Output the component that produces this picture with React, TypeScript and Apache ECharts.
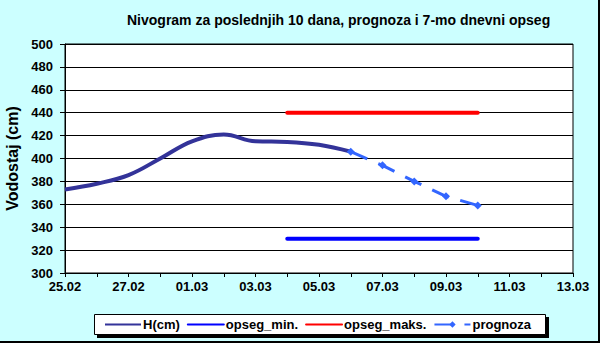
import React, { useEffect, useRef } from "react";
import * as echarts from "echarts";

const dateLabels = [
  "25.02", "26.02", "27.02", "28.02", "01.03", "02.03", "03.03", "04.03", "05.03",
  "06.03", "07.03", "08.03", "09.03", "10.03", "11.03", "12.03", "13.03",
];
// day index (0 = 25.02) and level in cm
const hDays = [0, 1, 2, 3, 4, 5, 6, 7, 8, 9];
const hValues = [373, 378, 385.5, 400, 415, 421, 415, 414.5, 412, 406];
const progDays = [9, 10, 11, 12, 13];
const progValues = [406, 394, 380, 367, 359];
const rangeDays = [7, 13];
const opsegMin = [330, 330];
const opsegMaks = [440, 440];
const yTicks = { min: 300, max: 500, step: 20 };

const FONT = 'Arial, "Liberation Sans", sans-serif';

export default function App() {
  const ref = useRef<HTMLDivElement>(null);
  useEffect(() => {
    document.body.style.margin = "0";
    if (!ref.current) return;
    const chart = echarts.init(ref.current, undefined, { renderer: "svg" });
    const zip = (xs: number[], ys: number[]) => xs.map((x, i) => [x, ys[i]]);
    const hidden = { opacity: 0 };
    chart.setOption({
      animation: false,
      backgroundColor: "#CCFFFF",
      textStyle: { fontFamily: FONT },
      title: {
        text: "Nivogram za poslednjih 10 dana, prognoza i 7-mo dnevni opseg",
        left: 127,
        top: 13,
        padding: 0,
        textStyle: { fontSize: 14, fontWeight: "bold", color: "#000", fontFamily: FONT },
      },
      grid: {
        left: 65,
        right: 27,
        top: 44,
        bottom: 70,
        containLabel: false,
        outerBoundsMode: "none",
        show: true,
        backgroundColor: "#fff",
        borderColor: "#000",
        borderWidth: 1,
      },
      xAxis: {
        type: "value",
        min: 0,
        max: dateLabels.length - 1,
        interval: 1,
        axisLine: { show: true, lineStyle: { color: "#000", width: 1 } },
        axisTick: { show: true, length: 4, lineStyle: { color: "#000" } },
        splitLine: { show: false },
        axisLabel: {
          margin: 7,
          color: "#000",
          fontSize: 13,
          fontWeight: "bold",
          fontFamily: FONT,
          formatter: (v: number) => (v % 2 === 0 ? dateLabels[v] : ""),
        },
      },
      yAxis: {
        type: "value",
        min: yTicks.min,
        max: yTicks.max,
        interval: yTicks.step,
        name: "Vodostaj (cm)",
        nameLocation: "middle",
        nameGap: 31,
        nameTextStyle: { fontSize: 16, fontWeight: "bold", color: "#000", fontFamily: FONT },
        axisLine: { show: true, lineStyle: { color: "#000", width: 1 } },
        axisTick: { show: true, length: 5, lineStyle: { color: "#000" } },
        splitLine: { show: true, lineStyle: { color: "#000", width: 1 } },
        axisLabel: {
          margin: 12,
          color: "#000",
          fontSize: 13,
          fontWeight: "bold",
          fontFamily: FONT,
        },
      },
      legend: {
        left: 104,
        top: 318,
        itemWidth: 36,
        itemHeight: 8,
        itemGap: 7,
        padding: 0,
        textStyle: { fontSize: 13, fontWeight: "bold", color: "#000", fontFamily: FONT, padding: [0, 0, 0, -3] },
        data: [
          { name: "H(cm)", itemStyle: hidden },
          { name: "opseg_min.", itemStyle: hidden },
          { name: "opseg_maks.", itemStyle: hidden },
          { name: "prognoza" },
        ],
      },
      graphic: [
        { type: "rect", z: -1, shape: { x: 97, y: 317, width: 452, height: 21 }, style: { fill: "#000" } },
        { type: "rect", z: -1, shape: { x: 94.5, y: 314.5, width: 451, height: 20 }, style: { fill: "#fff", stroke: "#000", lineWidth: 1 } },
        { type: "line", shape: { x1: 599, y1: 0, x2: 599, y2: 343 }, style: { stroke: "#000", lineWidth: 2 } },
        { type: "line", shape: { x1: 0, y1: 342, x2: 600, y2: 342 }, style: { stroke: "#000", lineWidth: 2 } },
      ],
      series: [
        {
          name: "H(cm)",
          type: "line",
          data: zip(hDays, hValues),
          smooth: 0.4,
          symbol: "none",
          color: "#333399",
          lineStyle: { color: "#333399", width: 4 },
        },
        {
          name: "opseg_min.",
          type: "line",
          data: zip(rangeDays, opsegMin),
          symbol: "none",
          color: "#0000FF",
          lineStyle: { color: "#0000FF", width: 4, cap: "round" },
        },
        {
          name: "opseg_maks.",
          type: "line",
          data: zip(rangeDays, opsegMaks),
          symbol: "none",
          color: "#FF0000",
          lineStyle: { color: "#FF0000", width: 4, cap: "round" },
        },
        {
          name: "prognoza",
          type: "line",
          data: zip(progDays, progValues),
          symbol: "diamond",
          symbolSize: 8,
          color: "#3366FF",
          itemStyle: { color: "#3366FF" },
          lineStyle: { color: "#3366FF", width: 3, type: [18, 12] },
        },
      ],
    });
    return () => chart.dispose();
  }, []);
  return <div ref={ref} style={{ width: 600, height: 343 }} />;
}
